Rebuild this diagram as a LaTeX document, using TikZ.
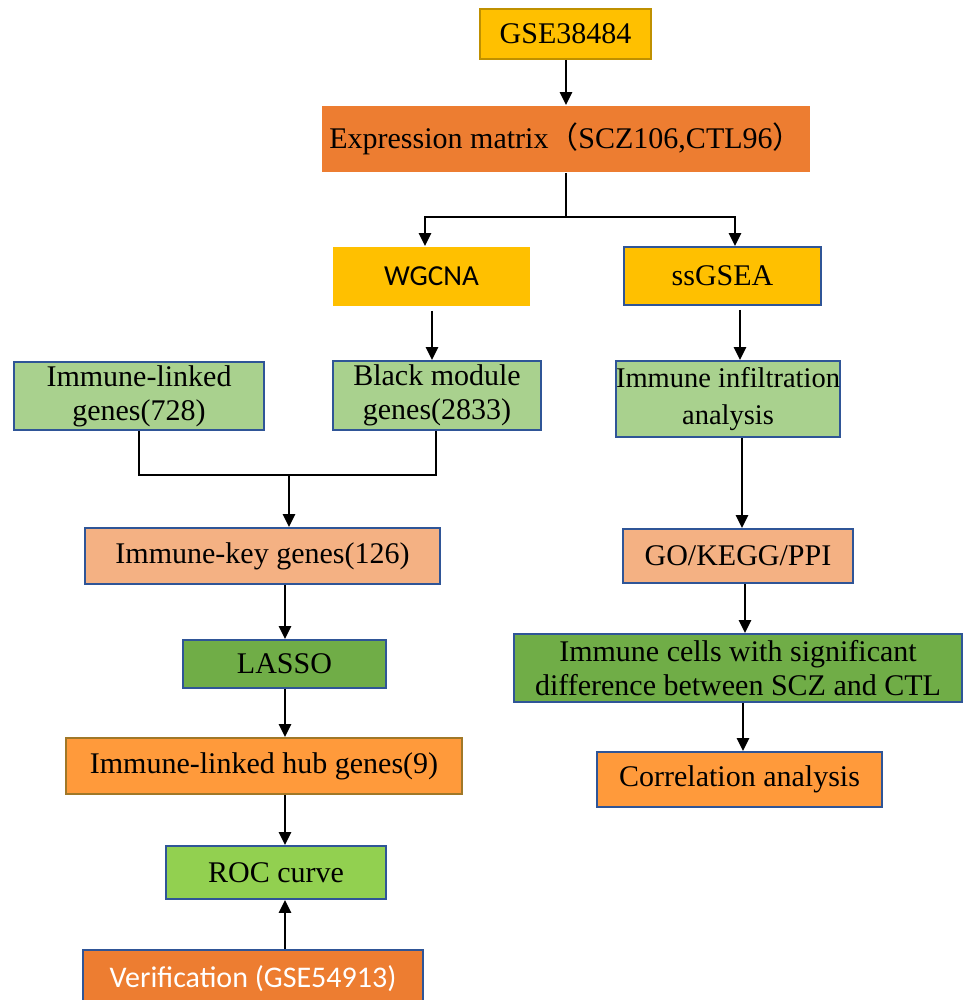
\documentclass[tikz,border=0pt]{standalone}
\usepackage{fontspec}
\setmainfont{Liberation Serif}
\newfontfamily\calib{Carlito}
\newfontfamily\cjk{Noto Sans CJK SC}
\usetikzlibrary{arrows.meta}
\definecolor{gold}{HTML}{FFC000}
\definecolor{goldbd}{HTML}{BF9000}
\definecolor{orng}{HTML}{ED7D31}
\definecolor{bdblue}{HTML}{2F5597}
\definecolor{lgreen}{HTML}{A9D18E}
\definecolor{salmon}{HTML}{F4B183}
\definecolor{mgreen}{HTML}{70AD47}
\definecolor{lorng}{HTML}{FF9A3B}
\definecolor{hubbd}{HTML}{A07828}
\definecolor{lime}{HTML}{92D050}
\begin{document}
\begin{tikzpicture}[x=1pt,y=-1pt,
  box/.style={rectangle, draw=bdblue, line width=1.8pt, inner sep=0pt, align=center,
    font=\fontsize{30}{34}\selectfont},
  ln/.style={line width=2.8pt},
  arr/.style={line width=2.8pt, -{Triangle[length=13pt,width=12pt]}}]
\clip (0,0) rectangle (963,1000);
\fill[white] (0,0) rectangle (963,1000);

\node[box, fill=gold, draw=goldbd, minimum width=171pt, minimum height=50pt] (gse) at (565.5,34) {GSE38484};
\node[box, fill=orng, draw=none, minimum width=488pt, minimum height=66pt] (expr) at (566,139)
  {Expression matrix{\cjk （}SCZ106,CTL96{\cjk ）}};
\node[box, fill=gold, draw=none, minimum width=197pt, minimum height=59pt, font=\calib\fontsize{29}{34}\selectfont] (wgcna) at (431.5,276.5) {WGCNA};
\node[box, fill=gold, minimum width=197pt, minimum height=58pt] (ssgsea) at (722.5,276) {ssGSEA};
\node[box, fill=lgreen, minimum width=250pt, minimum height=68pt] (immlinked) at (139,396) {Immune-linked\\genes(728)};
\node[box, fill=lgreen, minimum width=208pt, minimum height=69pt] (black) at (437,395.5) {Black module\\genes(2833)};
\node[box, fill=lgreen, minimum width=210pt, minimum height=76pt, font=\fontsize{28.5}{37}\selectfont] (infil) at (728,399) {Immune infiltration\\analysis};
\node[box, fill=salmon, minimum width=355pt, minimum height=56pt] (immkey) at (262.5,556) {Immune-key genes(126)};
\node[box, fill=salmon, minimum width=230pt, minimum height=54pt] (gokegg) at (738,556) {GO/KEGG/PPI};
\node[box, fill=mgreen, minimum width=203pt, minimum height=48pt] (lasso) at (284.5,664) {LASSO};
\node[box, fill=mgreen, minimum width=448pt, minimum height=68pt] (cells) at (738,668) {Immune cells with significant\\difference between SCZ and CTL};
\node[box, fill=lorng, draw=hubbd, minimum width=396pt, minimum height=56pt] (hub) at (264,766) {Immune-linked hub genes(9)};
\node[box, fill=lorng, minimum width=285pt, minimum height=55pt] (corr) at (739.5,779.5) {Correlation analysis};
\node[box, fill=lime, minimum width=220pt, minimum height=53pt] (roc) at (276,872.5) {ROC curve};
\node[box, fill=orng, minimum width=340pt, minimum height=58pt, text=white, font=\calib\fontsize{30}{34}\selectfont] (verif) at (253,979) {Verification (GSE54913)};

% top
\draw[arr] (gse.south -| 566,0) -- (expr.north -| 566,0);
\coordinate (split) at (566,217);
\coordinate (sl) at (425,217);
\coordinate (sr) at (735,217);
\draw[ln] (expr.south -| split) -- (split);
\draw[arr] (split) -| (sl |- wgcna.north);
\draw[arr] (split) -| (sr |- ssgsea.north);

% left column
\draw[arr, shorten <=4pt] (wgcna.south -| 432,0) -- (black.north -| 432,0);
\coordinate (join) at (289,475);
\coordinate (mx1) at (139,0);
\coordinate (mx2) at (436,0);
\draw[ln] (immlinked.south -| mx1) |- (join);
\draw[ln] (black.south -| mx2) |- (join);
\draw[arr] (join) -- (join |- immkey.north);
\coordinate (lx) at (285,0);
\draw[arr] (immkey.south -| lx) -- (lasso.north -| lx);
\draw[arr] (lasso.south -| lx) -- (hub.north -| lx);
\draw[arr] (hub.south -| lx) -- (roc.north -| lx);
\draw[arr] (verif.north -| lx) -- (roc.south -| lx);

% right column
\draw[arr, shorten <=4pt] (ssgsea.south -| 740,0) -- (infil.north -| 740,0);
\draw[arr] (infil.south -| 742,0) -- (gokegg.north -| 742,0);
\draw[arr] (gokegg.south -| 745,0) -- (cells.north -| 745,0);
\draw[arr] (cells.south -| 743,0) -- (corr.north -| 743,0);
\end{tikzpicture}
\end{document}
